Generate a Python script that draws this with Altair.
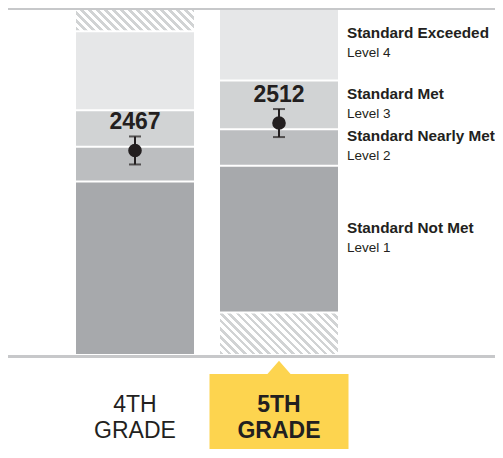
import altair as alt
import pandas as pd

# ---------------- data ----------------
grades = ["4TH GRADE", "5TH GRADE"]
grade_line1 = ["4TH", "5TH"]
grade_line2 = ["GRADE", "GRADE"]
highlight = "5TH GRADE"

levels = ["Level 1", "Level 2", "Level 3", "Level 4"]
level_titles = ["Standard Not Met", "Standard Nearly Met", "Standard Met", "Standard Exceeded"]
level_colors = ["#a7a9ac", "#bcbec0", "#d1d3d4", "#e6e7e8"]

# achievement-level cut scores (min, L2, L3, L4, max) for each grade
cuts_4 = [2131, 2416, 2473, 2533, 2663]
cuts_5 = [2201, 2442, 2502, 2582, 2701]
scale_min = 2131
scale_max = 2701

scores = [2467, 2512]
score_err = [23, 23]

# ---------------- tables ----------------
cuts = {grades[0]: cuts_4, grades[1]: cuts_5}
band_rows = []
for g in grades:
    c = cuts[g]
    for i, lv in enumerate(levels):
        band_rows.append({"grade": g, "level": lv, "lo": c[i], "hi": c[i + 1]})
bands = pd.DataFrame(band_rows)

hatch = pd.DataFrame({
    "grade": grades,
    "lo": [cuts_4[-1], scale_min],
    "hi": [scale_max, cuts_5[0]],
})

score_df = pd.DataFrame({
    "grade": grades,
    "score": scores,
    "lo": [s - e for s, e in zip(scores, score_err)],
    "hi": [s + e for s, e in zip(scores, score_err)],
    "label": [str(s) for s in scores],
})

c5 = cuts[highlight]
label_df = pd.DataFrame({
    "grade": [highlight] * 4,
    "mid": [(c5[i] + c5[i + 1]) / 2 for i in range(4)],
    "title": level_titles,
    "level": levels,
})

grade_df = pd.DataFrame({"grade": grades, "l1": grade_line1, "l2": grade_line2})

# ---------------- layout ----------------
PAD_L, PAD_R, PAD_T, PAD_B = 68, 157, 0, 94
PLOT_W, PLOT_H = 262, 347
P_INNER = 26 / 144
FONT = "Liberation Sans"
INK = "#231f20"
LINE = "#c7c8ca"

x_scale = alt.Scale(domain=grades, paddingInner=P_INNER, paddingOuter=0)
y_scale = alt.Scale(domain=[scale_min, scale_max], nice=False, zero=False)

step = PLOT_W / (len(grades) - P_INNER)
bandwidth = step * (1 - P_INNER)
px_per_pt = PLOT_H / (scale_max - scale_min)


def hatch_gradient(w, h, period=8.0, frac=0.45, c1="#d1d3d4", c2="#ffffff"):
    a = (w + h) / (w * w + h * h)
    n = (w + h) / period
    stp = 1.0 / n
    stops = []
    t = 0.0
    while t < 1.0 - 1e-9:
        t1 = min(t + stp * frac, 1.0)
        t2 = min(t + stp, 1.0)
        stops += [
            alt.GradientStop(offset=round(t, 5), color=c1),
            alt.GradientStop(offset=round(t1, 5), color=c1),
            alt.GradientStop(offset=round(t1, 5), color=c2),
            alt.GradientStop(offset=round(t2, 5), color=c2),
        ]
        t += stp
    return alt.LinearGradient(gradient="linear", stops=stops,
                              x1=0, y1=1, x2=a * w, y2=1 - a * h)


X = lambda **kw: alt.X("grade:N", scale=x_scale, axis=None, **kw)

bars = alt.Chart(bands).mark_rect(yOffset=1, y2Offset=-1).encode(
    x=X(),
    y=alt.Y("hi:Q", scale=y_scale, axis=None),
    y2="lo:Q",
    color=alt.Color("level:N", scale=alt.Scale(domain=levels, range=level_colors), legend=None),
)

hatch_layers = []
for i, g in enumerate(grades):
    h_px = (hatch["hi"][i] - hatch["lo"][i]) * px_per_pt - 2
    hatch_layers.append(
        alt.Chart(hatch).transform_filter(alt.datum.grade == g)
        .mark_rect(yOffset=1, y2Offset=-1, fill=hatch_gradient(bandwidth, h_px))
        .encode(x=X(), y=alt.Y("hi:Q", scale=y_scale, axis=None), y2="lo:Q")
    )

top_line = alt.Chart(grade_df).mark_rule(color=LINE, strokeWidth=2, yOffset=1).encode(
    x=alt.value(-PAD_L), x2=alt.value(PLOT_W + PAD_R),
    y=alt.Y(datum=scale_max, scale=y_scale, axis=None),
)
bottom_line = alt.Chart(grade_df).mark_rule(color=LINE, strokeWidth=3, yOffset=1.5).encode(
    x=alt.value(-PAD_L), x2=alt.value(PLOT_W + PAD_R),
    y=alt.Y(datum=scale_min, scale=y_scale, axis=None),
)

err_base = alt.Chart(score_df)
err_rule = err_base.mark_rule(color=INK, strokeWidth=2).encode(
    x=X(), y=alt.Y("lo:Q", scale=y_scale, axis=None), y2="hi:Q")
err_lo = err_base.mark_tick(color=INK, size=12, thickness=2).encode(
    x=X(), y=alt.Y("lo:Q", scale=y_scale, axis=None))
err_hi = err_base.mark_tick(color=INK, size=12, thickness=2).encode(
    x=X(), y=alt.Y("hi:Q", scale=y_scale, axis=None))
pt = err_base.mark_point(filled=True, shape="circle", size=185, color=INK, opacity=1).encode(
    x=X(), y=alt.Y("score:Q", scale=y_scale, axis=None))
score_txt = err_base.mark_text(font=FONT, fontSize=23, fontWeight="bold", color=INK,
                               baseline="alphabetic", dy=-21).encode(
    x=X(), y=alt.Y("score:Q", scale=y_scale, axis=None), text="label:N")

lab_title = alt.Chart(label_df).mark_text(font=FONT, fontSize=15.3, fontWeight="bold", color=INK,
                                          align="left", baseline="alphabetic", dx=9, dy=-6).encode(
    x=X(bandPosition=1), y=alt.Y("mid:Q", scale=y_scale, axis=None), text="title:N")
lab_level = alt.Chart(label_df).mark_text(font=FONT, fontSize=13.5, color=INK,
                                          align="left", baseline="alphabetic", dx=9, dy=13).encode(
    x=X(bandPosition=1), y=alt.Y("mid:Q", scale=y_scale, axis=None), text="level:N")

hl = alt.Chart(grade_df).transform_filter(alt.datum.grade == highlight)
box = hl.mark_rule(color="#fdd44f", strokeWidth=139, strokeCap="butt").encode(
    x=X(), y=alt.value(366), y2=alt.value(PLOT_H + PAD_B))
tri = hl.mark_point(shape="M-1,0.15L0,-1L1,0.15Z", size=708, filled=True,
                    color="#fdd44f", opacity=1).encode(x=X(), y=alt.value(366))

grade_layers = []
for cond, weight in [(alt.datum.grade != highlight, "normal"), (alt.datum.grade == highlight, "bold")]:
    base = alt.Chart(grade_df).transform_filter(cond)
    grade_layers.append(base.mark_text(font=FONT, fontSize=23, fontWeight=weight, color=INK,
                                       baseline="alphabetic").encode(
        x=X(), y=alt.value(403.7), text="l1:N"))
    grade_layers.append(base.mark_text(font=FONT, fontSize=23, fontWeight=weight, color=INK,
                                       baseline="alphabetic").encode(
        x=X(), y=alt.value(430.3), text="l2:N"))

chart = alt.layer(
    bars, *hatch_layers, top_line, bottom_line,
    err_rule, err_lo, err_hi, pt, score_txt,
    lab_title, lab_level, box, tri, *grade_layers,
).properties(
    width=PLOT_W, height=PLOT_H,
    autosize=alt.AutoSizeParams(type="none"),
    padding={"left": PAD_L, "right": PAD_R, "top": PAD_T, "bottom": PAD_B},
).configure_view(stroke=None)

chart.save("out.html", embed_options={"renderer": "svg", "actions": False})
